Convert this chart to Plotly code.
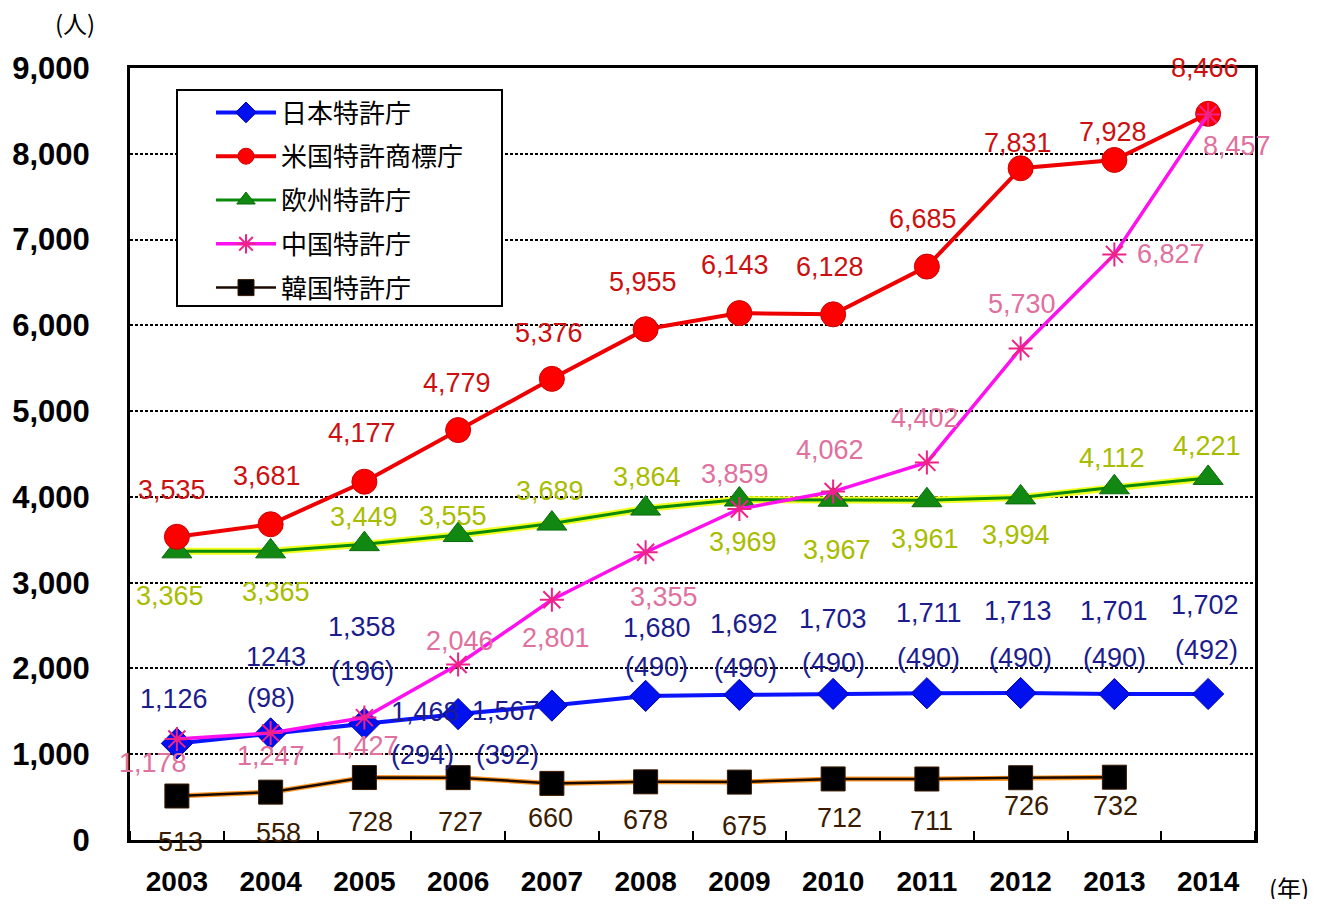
import plotly.graph_objects as go

years = ["2003", "2004", "2005", "2006", "2007", "2008", "2009", "2010", "2011", "2012", "2013", "2014"]
japan = [1126, 1243, 1358, 1468, 1567, 1680, 1692, 1703, 1711, 1713, 1701, 1702]
japan_paren = [None, 98, 196, 294, 392, 490, 490, 490, 490, 490, 490, 492]
usa = [3535, 3681, 4177, 4779, 5376, 5955, 6143, 6128, 6685, 7831, 7928, 8466]
europe = [3365, 3365, 3449, 3555, 3689, 3864, 3969, 3967, 3961, 3994, 4112, 4221]
china = [1178, 1247, 1427, 2046, 2801, 3355, 3859, 4062, 4402, 5730, 6827, 8457]
korea = [513, 558, 728, 727, 660, 678, 675, 712, 711, 726, 732, None]

names = ["日本特許庁", "米国特許商標庁", "欧州特許庁", "中国特許庁", "韓国特許庁"]
japan_label_override = {1: "1243"}

# label offsets in pixels (dx right, dy down) relative to the marker
jp_off = [(-3, -44), (5, -76), (-2, -97), (-33, -2), (-46, 5), (11, -68), (5, -71), (0, -75), (2, -80), (-3, -82), (0, -83), (-3, -89)]
jp_paren_off = [None, (0, -35), (-2, -53), (-36, 41), (-44, 49), (11, -29), (6, -27), (0, -31), (2, -35), (0, -35), (0, -36), (-2, -44)]
us_off = [(-5, -47), (-4, -48), (-2, -49), (-1, -47), (-3, -46), (-3, -47), (-4, -48), (-3, -47), (-4, -48), (-3, -25), (-1, -28), (-3, -46)]
eu_off = [(-7, 45), (5, 41), (0, -27), (-5, -19), (-2, -33), (1, -32), (4, 42), (4, 50), (-2, 39), (-5, 38), (-2, -29), (-1, -32)]
cn_off = [(-24, 24), (0, 23), (1, 28), (2, -24), (4, 38), (18, 45), (-4, -35), (-3, -42), (-2, -44), (1, -44), (57, 0), (29, 31)]
kr_off = [(4, 46), (8, 41), (6, 44), (2, 44), (-1, 35), (0, 38), (5, 44), (6, 39), (5, 42), (6, 28), (1, 29), None]

NUM_FONT = "Liberation Sans, Arial, sans-serif"
CJK_FONT = "Noto Sans CJK JP, sans-serif"

C_JP_TXT = "#1c1c8c"
C_US_TXT = "#cc1010"
C_EU_TXT = "#a8bc00"
C_CN_TXT = "#e0709e"
C_KR_TXT = "#3a1c00"

xi = list(range(len(years)))

fig = go.Figure()

# halo lines (drawn first)
fig.add_trace(go.Scatter(x=xi, y=korea, mode="lines", line=dict(color="#ff9a2a", width=5),
                         showlegend=False, hoverinfo="skip"))
fig.add_trace(go.Scatter(x=xi, y=europe, mode="lines", line=dict(color="#f0ff20", width=7),
                         showlegend=False, hoverinfo="skip"))

fig.add_trace(go.Scatter(x=xi, y=korea, mode="lines+markers", name=names[4], legendrank=5, legendgroup="kr",
                         line=dict(color="#1a0a00", width=2.5),
                         marker=dict(symbol="square", size=24, color="#000000", line=dict(color="#3a1a00", width=1))))
fig.add_trace(go.Scatter(x=xi, y=europe, mode="lines+markers", name=names[2], legendrank=3, legendgroup="eu",
                         line=dict(color="#0a8a0a", width=3),
                         marker=dict(symbol="triangle-up", size=26, color="#118811", line=dict(color="#0a6a0a", width=1))))
fig.add_trace(go.Scatter(x=xi, y=japan, mode="lines+markers", name=names[0], legendrank=1, legendgroup="jp",
                         line=dict(color="#0a14ff", width=4),
                         marker=dict(symbol="diamond", size=24, color="#0010ee", line=dict(color="#0000aa", width=1))))
fig.add_trace(go.Scatter(x=xi, y=usa, mode="lines+markers", name=names[1], legendrank=2, legendgroup="us",
                         line=dict(color="#ee0000", width=4),
                         marker=dict(symbol="circle", size=25, color="#ff0000", line=dict(color="#cc0000", width=1))))
fig.add_trace(go.Scatter(x=xi, y=china, mode="lines+markers", name=names[3], legendrank=4, legendgroup="cn",
                         line=dict(color="#ff10ee", width=3.5),
                         marker=dict(symbol="asterisk-open", size=20, color="#ee2288", line=dict(color="#ee2288", width=2))))

# page body margin: the figure starts 8px from the page's top-left corner
PAGE_OFF = 8
W, H = 1320 - 2 * PAGE_OFF, 907 - 2 * PAGE_OFF
# plot area in page pixels
P_LEFT, P_RIGHT, P_TOP, P_BOTTOM = 130, 1255, 68, 840
L = P_LEFT - PAGE_OFF
T = P_TOP - PAGE_OFF
R = W - (P_RIGHT - PAGE_OFF)
B = H - (P_BOTTOM - PAGE_OFF)
PW, PH = W - L - R, H - T - B


def px_x(p):
    return (p - P_LEFT) / PW


def px_y(p):
    return (P_BOTTOM - p) / PH


annotations = []


def add_label(x, y, text, off, color):
    if off is None or y is None:
        return
    annotations.append(dict(x=x, y=y, xref="x", yref="y", text=text, showarrow=False,
                            xanchor="center", yanchor="middle", xshift=off[0], yshift=-off[1],
                            font=dict(family=NUM_FONT, size=27, color=color)))


for i in xi:
    add_label(i, japan[i], japan_label_override.get(i, f"{japan[i]:,}"), jp_off[i], C_JP_TXT)
    if japan_paren[i] is not None:
        add_label(i, japan[i], f"({japan_paren[i]})", jp_paren_off[i], C_JP_TXT)
    add_label(i, usa[i], f"{usa[i]:,}", us_off[i], C_US_TXT)
    add_label(i, europe[i], f"{europe[i]:,}", eu_off[i], C_EU_TXT)
    add_label(i, china[i], f"{china[i]:,}", cn_off[i], C_CN_TXT)
    if korea[i] is not None:
        add_label(i, korea[i], f"{korea[i]:,}", kr_off[i], C_KR_TXT)

annotations.append(dict(x=px_x(75), y=px_y(22), xref="paper", yref="paper", text="(人)", showarrow=False,
                        xanchor="center", yanchor="middle",
                        font=dict(family=CJK_FONT, size=24, color="black")))
annotations.append(dict(x=px_x(1289), y=px_y(887), xref="paper", yref="paper", text="(年)", showarrow=False,
                        xanchor="center", yanchor="middle",
                        font=dict(family=CJK_FONT, size=24, color="black")))

fig.update_layout(
    width=W, height=H, autosize=False,
    margin=dict(l=L, r=R, t=T, b=B, pad=0, autoexpand=False),
    paper_bgcolor="white", plot_bgcolor="white",
    annotations=annotations,
    showlegend=True,
    legend=dict(x=px_x(211), y=px_y(89), xanchor="left", yanchor="top",
                bgcolor="rgba(0,0,0,0)", borderwidth=0,
                font=dict(family=CJK_FONT, size=26, color="black"),
                traceorder="grouped", tracegroupgap=7, itemwidth=60),
    shapes=[dict(type="rect", xref="paper", yref="paper",
                 x0=px_x(177), x1=px_x(502), y0=px_y(306), y1=px_y(90),
                 fillcolor="white", line=dict(color="black", width=2), layer="above")],
    xaxis=dict(range=[-0.5, 11.5], tickmode="array", tickvals=xi, ticktext=years,
               showline=True, linecolor="black", linewidth=3, mirror=True,
               ticks="", automargin=False,
               minor=dict(tick0=0.5, dtick=1, ticks="inside", ticklen=9, tickwidth=2, tickcolor="black",
                          showgrid=False),
               showgrid=False, zeroline=False, ticklabelstandoff=14,
               tickfont=dict(family=NUM_FONT, size=28, color="black", weight="bold")),
    yaxis=dict(range=[0, 9000], dtick=1000, tickformat=",", showline=True, linecolor="black",
               linewidth=3, mirror=True, ticks="", showgrid=True, gridcolor="black",
               griddash="3px,2px", gridwidth=2, zeroline=False, ticklabelstandoff=31, automargin=False,
               tickfont=dict(family=NUM_FONT, size=31, color="black", weight="bold")),
    hovermode=False,
)

fig.write_html("out.html")
